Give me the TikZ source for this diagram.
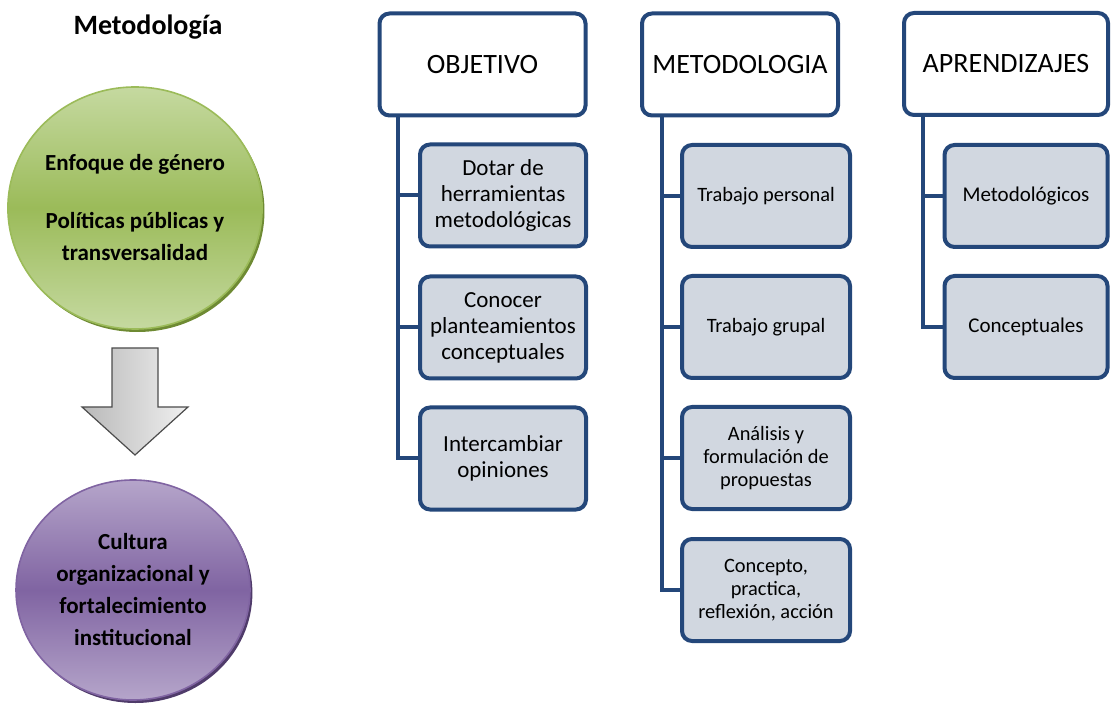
\documentclass[tikz,border=0pt]{standalone}
\usepackage{fontspec}
\setmainfont{Carlito}
\usetikzlibrary{positioning}
\usetikzlibrary{shapes.geometric}
\usetikzlibrary{shadows}
\usetikzlibrary{calc}
\definecolor{frameblue}{HTML}{24477A}
\definecolor{boxgray}{HTML}{D1D7E0}
\definecolor{greenlight}{HTML}{C5D9A0}
\definecolor{greenmid}{HTML}{9BBB59}
\definecolor{greenrim}{HTML}{6E8A33}
\definecolor{purplelight}{HTML}{B5A5CA}
\definecolor{purplemid}{HTML}{8064A2}
\definecolor{purplerim}{HTML}{4F3B6A}
\tikzstyle{headbox}=[rectangle,rounded corners=5pt,draw=frameblue,line width=2pt,fill=white,minimum height=51pt,inner sep=0pt,font=\fontsize{14}{17}\selectfont]
\tikzstyle{subbox}=[rectangle,rounded corners=5pt,draw=frameblue,line width=2pt,fill=boxgray,minimum height=51pt,inner sep=1pt,align=center]
\tikzstyle{branch} = [draw,frameblue,line width=2pt]
\tikzstyle{ball}=[ellipse,inner sep=0pt,align=center,line width=0.8pt,font=\fontsize{11.5}{16}\selectfont\bfseries]
\tikzstyle{title} = [font=\fontsize{14}{17}\selectfont\bfseries]

\begin{document}
\begin{tikzpicture}[x=0.5pt,y=-0.5pt]
\useasboundingbox (0,0) rectangle (1111,704);

    % left column: title, two ellipses and the block arrow
    \node[title] (tit) at (148,27) {Metodología};
    \node[ball, minimum width=125pt, minimum height=121pt, draw=greenmid,
          top color=greenlight, bottom color=greenlight, middle color=greenmid,
          drop shadow={opacity=1,fill=greenrim,shadow xshift=1.2pt,shadow yshift=-1.5pt}]
          (enf) at (135,208) {Enfoque de género\\[13pt]Políticas públicas y\\transversalidad};
    \node[ball, minimum width=117pt, minimum height=110pt, draw=purplemid,
          top color=purplelight, bottom color=purplelight, middle color=purplemid,
          drop shadow={opacity=1,fill=purplerim,shadow xshift=1.2pt,shadow yshift=-1.5pt}]
          (cul) at (133,590) {Cultura\\organizacional y\\fortalecimiento\\institucional};
    \path[draw=gray!60!black, line width=0.6pt, left color=gray!55, right color=gray!12]
          (112,348) -- (158,348) -- (158,407) -- (188,407) -- (135,455)
          -- (82,407) -- (112,407) -- cycle;

    % the three headers
    \foreach \pos/\name/\label/\boxwd in {{(482.5,64.5)/OBJ/OBJETIVO/103pt}, {(740,64.5)/MET/METODOLOGIA/98pt}, {(1006,64)/APR/APRENDIZAJES/102pt}}
        \node[headbox, minimum width=\boxwd] (\name) at \pos {\label};

    % boxes under OBJETIVO
    \foreach \pos/\name/\label in {{(503,195.5)/O1/{Dotar de\\herramientas\\metodológicas}}, {(503,327.5)/O2/{Conocer\\planteamientos\\conceptuales}}, {(503,458.5)/O3/{Intercambiar\\opiniones}}}
        \node[subbox, minimum width=83pt, font=\fontsize{11.5}{13}\selectfont] (\name) at \pos {\label};

    % boxes under METODOLOGIA
    \foreach \pos/\name/\label in {{(766,196)/M1/{Trabajo personal}}, {(766,327)/M2/{Trabajo grupal}}, {(766,458)/M3/{Análisis y\\formulación de\\propuestas}}, {(766,590)/M4/{Concepto,\\practica,\\reflexión, acción}}}
        \node[subbox, minimum width=84pt, font=\fontsize{10.2}{11.6}\selectfont] (\name) at \pos {\label};

    % boxes under APRENDIZAJES
    \foreach \pos/\name/\label in {{(1026,196)/A1/Metodológicos}, {(1026,327)/A2/Conceptuales}}
        \node[subbox, minimum width=81.5pt, font=\fontsize{10.5}{12}\selectfont] (\name) at \pos {\label};

    % trunk lines and branches
    \coordinate (Otrunk) at ($(OBJ.south)+(-84.5,0)$);
    \coordinate (Mtrunk) at ($(MET.south)+(-78,0)$);
    \coordinate (Atrunk) at ($(APR.south)+(-83,0)$);
    \foreach \source/ \dest in {Otrunk/O1, Otrunk/O2, Otrunk/O3, Mtrunk/M1, Mtrunk/M2, Mtrunk/M3, Mtrunk/M4, Atrunk/A1, Atrunk/A2}
        \path[branch] (\source) |- (\dest.west);

\end{tikzpicture}
\end{document}
